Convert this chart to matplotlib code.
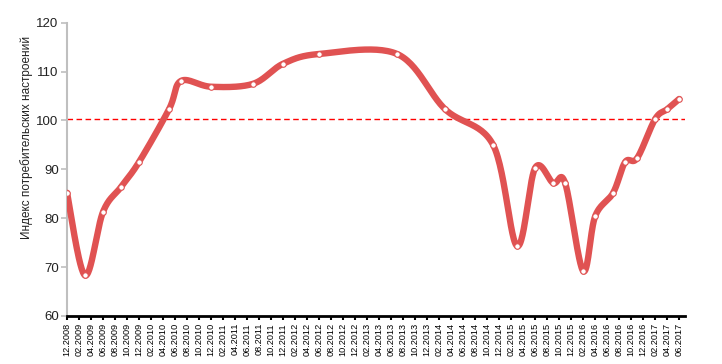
import numpy as np
import matplotlib
matplotlib.use("Agg")
import matplotlib.pyplot as plt

plt.rcParams["font.family"] = ["Liberation Sans", "DejaVu Sans"]

# survey dates (MM.YYYY) and index values
dates = ["12.2008", "03.2009", "06.2009", "09.2009", "12.2009", "05.2010",
         "07.2010", "12.2010", "07.2011", "12.2011", "06.2012", "07.2013",
         "03.2014", "11.2014", "03.2015", "06.2015", "09.2015", "11.2015",
         "02.2016", "04.2016", "07.2016", "09.2016", "11.2016", "02.2017",
         "04.2017", "06.2017"]
values = [85.2, 68.3, 81.3, 86.4, 91.5, 102.3,
          108.1, 106.9, 107.5, 111.6, 113.6, 113.6,
          102.3, 95.0, 74.3, 90.3, 87.2, 87.2,
          69.2, 80.4, 85.2, 91.5, 92.3, 100.3,
          102.3, 104.4]
ref_level = 100.4

start_year, start_month = 2008, 12
n_months = 102


def month_index(s):
    m, y = s.split(".")
    return (int(y) - start_year) * 12 + int(m) - start_month


x = np.array([month_index(d) for d in dates], dtype=float)
y = np.array(values)


# Excel-style smoothed line (Catmull-Rom through the points)
def catmull_rom(px, py, n=30):
    P = np.column_stack([px, py])
    P = np.vstack([P[0], P, P[-1]])
    out = []
    for i in range(1, len(P) - 2):
        p0, p1, p2, p3 = P[i - 1], P[i], P[i + 1], P[i + 2]
        c1 = p1 + (p2 - p0) / 6
        c2 = p2 - (p3 - p1) / 6
        t = np.linspace(0, 1, n)[:, None]
        seg = ((1 - t) ** 3) * p1 + 3 * ((1 - t) ** 2) * t * c1 + 3 * (1 - t) * t ** 2 * c2 + t ** 3 * p2
        out.append(seg if i == 1 else seg[1:])
    s = np.vstack(out)
    return s[:, 0], s[:, 1]


sx, sy = catmull_rom(x, y)

fig = plt.figure(figsize=(7.22, 3.64), dpi=100)
ax = fig.add_axes([0.0928, 0.1319, 0.8562, 0.8057])

ax.plot([0, 103.5], [ref_level, ref_level], color="#FF0000", lw=1.0, ls=(0, (4, 2.5)), zorder=2)
ax.plot(sx, sy, color="#E05252", lw=4.6, solid_capstyle="round", zorder=3)
ax.plot(x, y, ls="none", marker="o", ms=4, mfc="white", mec="#E05252", mew=0.8, zorder=4)

ax.set_xlim(0, 103)
ax.set_ylim(60, 120)
ax.set_yticks(range(60, 121, 10))

ticks = list(range(0, n_months + 1, 2))
labels = []
for t in ticks:
    mm = (start_month - 1 + t) % 12 + 1
    yy = start_year + (start_month - 1 + t) // 12
    labels.append(f"{mm:02d}.{yy}")
ax.set_xticks(ticks)
ax.set_xticklabels(labels, rotation=90, fontsize=6.6, color="#222222")

for s in ["top", "right"]:
    ax.spines[s].set_visible(False)
ax.spines["left"].set_color("#BFBFBF")
ax.spines["left"].set_linewidth(1.5)
ax.spines["bottom"].set_color("black")
ax.spines["bottom"].set_linewidth(2)

ax.tick_params(axis="y", colors="#BFBFBF", length=4, width=1.2, labelsize=9.5, labelcolor="#222222", pad=2)
ax.tick_params(axis="x", colors="black", length=3, width=1.5, pad=2)

ax.set_ylabel("Индекс потребительских настроений", fontsize=8.5, color="#222222")
ax.yaxis.set_label_coords(-0.055, 0.61)

fig.savefig("out.png", dpi=100)
